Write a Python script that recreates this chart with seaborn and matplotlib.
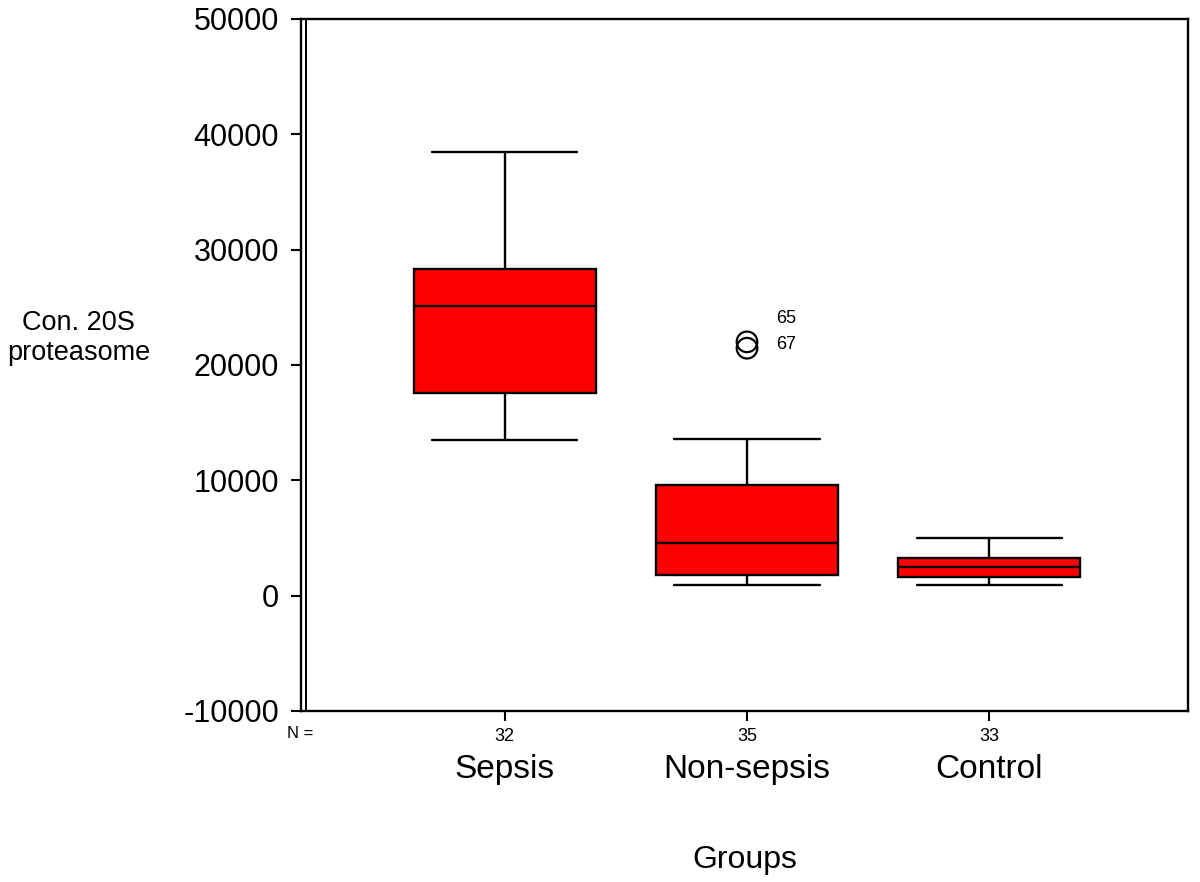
import seaborn as sns
import pandas as pd
import matplotlib.pyplot as plt

# five-number summaries (min, Q1, median, Q3, max of whiskers)
groups = ["Sepsis", "Non-sepsis", "Control"]
n_counts = [32, 35, 33]
sepsis_vals = [13500, 17550, 25100, 28300, 38500]
nonsepsis_vals = [950, 1800, 4550, 9600, 13550]
control_vals = [950, 1650, 2500, 3300, 4950]

# outliers in Non-sepsis group
outlier_vals = [22000, 21450]
outlier_ids = ["65", "67"]

rows = []
for g, vals in zip(groups, [sepsis_vals, nonsepsis_vals, control_vals]):
    for v in vals:
        rows.append({"Group": g, "Value": v})
df = pd.DataFrame(rows)

sns.set_style("white")
plt.rcParams["font.family"] = ["Liberation Sans", "DejaVu Sans"]
plt.rcParams["axes.unicode_minus"] = False
for k in ["text.color", "axes.labelcolor", "xtick.color", "ytick.color"]:
    plt.rcParams[k] = "black"

fig = plt.figure(figsize=(12, 8.82), dpi=100)
ax = fig.add_axes([0.251, 0.194, 0.739, 0.7845])

sns.boxplot(
    data=df, x="Group", y="Value", order=groups,
    color="#FF0000", saturation=1, width=0.75, whis=1.5,
    linewidth=1.7, linecolor="black", fliersize=0, ax=ax,
    capwidths=0.6,
)

out_df = pd.DataFrame({"Group": ["Non-sepsis"] * len(outlier_vals), "Value": outlier_vals})
sns.scatterplot(data=out_df, x="Group", y="Value", marker="o", s=220,
                facecolor="none", edgecolor="black", linewidth=1.6, ax=ax, zorder=5)
ax.text(1.12, 24000, outlier_ids[0], fontsize=13, va="center", ha="left")
ax.text(1.12, 21750, outlier_ids[1], fontsize=13, va="center", ha="left")

ax.set_ylim(-10000, 50000)
ax.set_xlim(-0.84, 2.82)
ax.set_yticks(range(-10000, 50001, 10000))
ax.tick_params(axis="y", labelsize=22, length=7, width=1.5, direction="out", left=True, pad=9)
ax.set_xticks(range(len(groups)))
ax.set_xticklabels([str(n) for n in n_counts], fontsize=13)
ax.tick_params(axis="x", length=7, width=1.5, direction="out", bottom=True, pad=5)

for s in ax.spines.values():
    s.set_visible(True)
    s.set_color("black")
    s.set_linewidth(1.7)
# SPSS-style double left axis line
ax.plot([0.005, 0.005], [0, 1], transform=ax.transAxes, color="black", lw=1.4, clip_on=False)

# category names below N counts
for i, g in enumerate(groups):
    ax.text(i, -0.062, g, transform=ax.get_xaxis_transform(), ha="center", va="top", fontsize=24)
ax.text(0.0135, -0.032, "N =", transform=ax.transAxes, ha="right", va="center", fontsize=12)

ax.set_xlabel("Groups", fontsize=23, labelpad=72)
ax.set_ylabel("Con. 20S\nproteasome", fontsize=19.5, rotation=0, ha="center", va="center")
ax.yaxis.set_label_coords(-0.251, 0.539)

fig.savefig("out.png", dpi=100)
